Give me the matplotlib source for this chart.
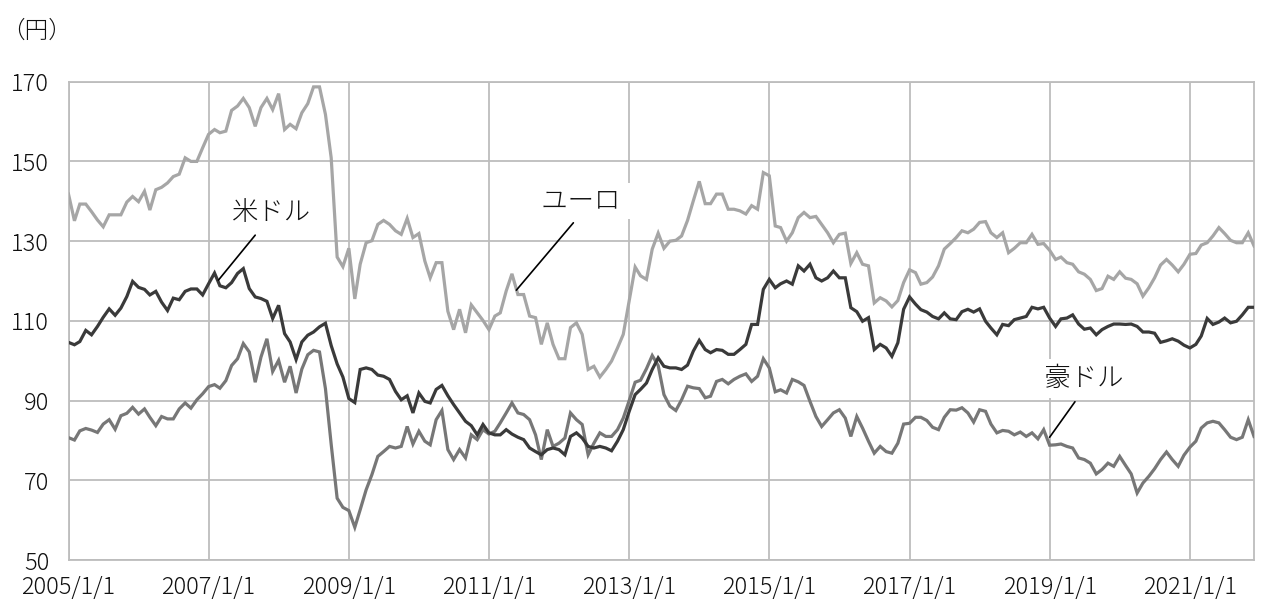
import matplotlib
matplotlib.use("Agg")
import matplotlib.pyplot as plt
import pandas as pd

plt.rcParams['font.family'] = ['Noto Sans CJK JP', 'DejaVu Sans']

# ---- data (monthly, 2005/1 - 2021/12) ----
start_date = "2005-01-01"
n_months = 204

usd = [104.6, 104.0, 104.8, 107.6, 106.5, 108.6, 110.9, 113.0, 111.4, 113.2, 116.1, 119.9,
       118.4, 117.9, 116.5, 117.4, 114.7, 112.6, 115.7, 115.3, 117.4, 118.0, 118.0, 116.5,
       119.3, 122.0, 118.8, 118.3, 119.6, 121.9, 123.1, 118.1, 116.0, 115.6, 114.9, 110.6,
       113.9, 106.8, 104.7, 100.3, 104.7, 106.4, 107.2, 108.5, 109.4, 103.8, 99.2, 95.9,
       90.5, 89.5, 97.8, 98.2, 97.8, 96.4, 96.1, 95.3, 92.3, 90.2, 91.2, 86.9,
       91.9, 89.8, 89.4, 92.8, 93.8, 91.2, 89.0, 86.9, 84.8, 83.7, 81.4, 84.0,
       81.9, 81.4, 81.4, 82.7, 81.6, 80.8, 80.2, 78.1, 77.2, 76.4, 77.7, 78.1,
       77.7, 76.4, 81.0, 81.9, 80.6, 78.5, 78.1, 78.5, 78.1, 77.4, 79.8, 82.7,
       87.3, 91.5, 92.8, 94.4, 97.8, 100.7, 98.6, 98.2, 98.2, 97.8, 98.9, 102.4,
       105.1, 102.8, 102.0, 102.8, 102.6, 101.6, 101.6, 102.8, 104.1, 109.1, 109.1, 117.9,
       120.4, 118.3, 119.3, 120.0, 119.2, 123.8, 122.5, 124.2, 120.8, 120.0, 120.8, 122.5,
       120.8, 120.8, 113.3, 112.3, 109.9, 110.8, 102.8, 104.1, 103.2, 101.1, 104.5, 112.9,
       116.0, 114.2, 112.8, 112.2, 111.1, 110.5, 112.0, 110.5, 110.3, 112.3, 112.9, 112.2,
       113.0, 109.9, 108.2, 106.5, 109.1, 108.8, 110.3, 110.7, 111.1, 113.4, 113.0, 113.4,
       110.7, 108.6, 110.5, 110.7, 111.5, 109.2, 107.9, 108.2, 106.5, 107.8, 108.6, 109.2,
       109.2, 109.1, 109.2, 108.6, 107.2, 107.2, 106.9, 104.6, 105.0, 105.5, 104.9, 103.9,
       103.2, 104.1, 106.2, 110.6, 109.1, 109.7, 110.7, 109.5, 109.9, 111.5, 113.4, 113.4]

eur = [141.8, 135.1, 139.3, 139.3, 137.4, 135.3, 133.6, 136.6, 136.6, 136.6, 139.8, 141.2,
       139.9, 142.5, 137.8, 142.9, 143.5, 144.6, 146.2, 146.8, 150.9, 150.0, 150.0, 153.4,
       156.8, 158.0, 157.2, 157.6, 162.8, 163.9, 165.8, 163.5, 158.8, 163.5, 165.8, 163.0,
       167.0, 158.0, 159.3, 158.2, 162.2, 164.5, 168.7, 168.7, 161.8, 150.9, 126.0, 123.6,
       128.2, 115.5, 124.2, 129.6, 130.1, 134.2, 135.2, 134.2, 132.6, 131.7, 135.7, 130.9,
       131.9, 125.0, 120.8, 124.6, 124.6, 112.4, 107.8, 112.9, 107.0, 114.0, 112.0, 110.1,
       107.8, 111.2, 112.0, 117.5, 121.8, 116.6, 116.6, 111.2, 110.8, 104.1, 109.5, 104.1,
       100.5, 100.5, 108.3, 109.5, 106.6, 97.8, 98.6, 95.9, 97.8, 99.9, 103.2, 106.6,
       115.0, 123.5, 121.3, 120.4, 128.0, 132.0, 128.2, 130.0, 130.2, 131.3, 135.2, 140.1,
       145.0, 139.4, 139.4, 141.8, 141.8, 138.0, 138.0, 137.6, 136.8, 138.9, 138.0, 147.2,
       146.4, 133.8, 133.4, 130.0, 132.1, 135.9, 137.2, 135.9, 136.2, 134.2, 132.1, 129.6,
       131.7, 132.0, 124.4, 127.1, 124.2, 123.8, 114.5, 115.8, 115.0, 113.5, 115.1, 119.6,
       122.8, 122.1, 119.2, 119.6, 121.0, 123.8, 128.0, 129.4, 130.9, 132.6, 132.1, 133.0,
       134.7, 134.9, 132.1, 130.9, 132.1, 127.1, 128.2, 129.6, 129.6, 131.7, 129.2, 129.4,
       127.7, 125.4, 126.0, 124.6, 124.2, 122.3, 121.7, 120.4, 117.6, 118.1, 121.2, 120.4,
       122.3, 120.7, 120.4, 119.3, 116.2, 118.3, 120.8, 124.0, 125.4, 124.0, 122.3, 124.2,
       126.7, 126.9, 129.0, 129.6, 131.3, 133.4, 131.9, 130.2, 129.6, 129.6, 132.1, 128.8]

aud = [80.7, 80.1, 82.4, 83.0, 82.6, 82.0, 84.1, 85.2, 82.8, 86.2, 86.8, 88.3,
       86.6, 87.9, 85.8, 83.7, 86.0, 85.4, 85.4, 87.9, 89.4, 88.1, 90.2, 91.7,
       93.5, 94.0, 93.1, 95.0, 98.8, 100.5, 104.3, 102.2, 94.6, 100.9, 105.5, 97.3,
       100.1, 94.6, 98.6, 91.9, 97.9, 101.5, 102.6, 102.2, 93.0, 79.0, 65.5, 63.2,
       62.4, 58.2, 62.6, 67.6, 71.4, 76.0, 77.2, 78.5, 78.1, 78.5, 83.5, 79.1,
       82.3, 79.8, 78.9, 85.2, 87.5, 77.7, 75.2, 77.7, 75.6, 81.4, 80.2, 82.7,
       81.6, 82.3, 84.4, 86.9, 89.4, 86.9, 86.5, 85.2, 81.4, 75.2, 82.7, 78.5,
       79.3, 80.6, 86.9, 85.2, 84.0, 76.4, 79.3, 81.9, 81.0, 81.0, 82.7, 85.6,
       90.0, 94.6, 95.1, 98.0, 101.3, 98.8, 91.5, 88.6, 87.5, 90.2, 93.6, 93.2,
       93.0, 90.7, 91.1, 94.8, 95.3, 94.2, 95.3, 96.1, 96.7, 94.8, 96.1, 100.5,
       98.2, 92.2, 92.7, 91.9, 95.3, 94.7, 93.8, 89.8, 86.0, 83.5, 85.2, 86.9,
       87.7, 85.6, 81.0, 86.0, 83.1, 79.8, 76.8, 78.5, 77.2, 76.8, 79.3, 84.1,
       84.3, 85.8, 85.8, 85.0, 83.3, 82.7, 85.8, 87.7, 87.6, 88.2, 86.9, 84.6,
       87.7, 87.3, 84.1, 81.9, 82.5, 82.3, 81.4, 82.1, 81.0, 81.9, 80.4, 82.7,
       78.8, 78.9, 79.1, 78.5, 78.1, 75.6, 75.2, 74.3, 71.6, 72.7, 74.3, 73.5,
       76.0, 73.7, 71.6, 66.8, 69.3, 71.0, 72.9, 75.2, 77.1, 75.2, 73.5, 76.3,
       78.3, 79.8, 83.1, 84.4, 84.8, 84.4, 82.7, 80.8, 80.2, 80.8, 85.2, 81.0]

series_names = ["米ドル", "ユーロ", "豪ドル"]
y_ticks = [50, 70, 90, 110, 130, 150, 170]
x_tick_years = [2005, 2007, 2009, 2011, 2013, 2015, 2017, 2019, 2021]
unit_label = "（円）"

dates = pd.date_range(start_date, periods=n_months, freq="MS")

# ---- figure ----
W, H = 1263, 607
fig = plt.figure(figsize=(W / 100, H / 100), dpi=100)
ax = fig.add_axes([68.5 / W, 1 - 560 / H, (1254 - 68.5) / W, (560 - 81.7) / H])

grid_c = "#bdbdbd"
c_usd, c_eur, c_aud = "#3a3a3a", "#a6a6a6", "#777777"
lw = 2.3
txt_c = "#111111"

ax.plot(dates, eur, color=c_eur, lw=lw, zorder=3, solid_joinstyle="miter")
ax.plot(dates, aud, color=c_aud, lw=lw, zorder=3, solid_joinstyle="miter")
ax.plot(dates, usd, color=c_usd, lw=lw, zorder=4, solid_joinstyle="miter")

ax.set_xlim(dates[0], dates[-1])
ax.set_ylim(50, 170)
ax.set_yticks(y_ticks)
xt = [pd.Timestamp(f"{y}-01-01") for y in x_tick_years]
ax.set_xticks(xt)
ax.set_xticklabels([f"{t.year}/{t.month}/{t.day}" for t in xt])

ax.grid(True, color=grid_c, lw=1.3, zorder=0)
for s in ax.spines.values():
    s.set_color(grid_c)
    s.set_linewidth(1.3)
ax.tick_params(length=0, labelsize=17, colors=txt_c)
ax.tick_params(axis="y", pad=14)
ax.tick_params(axis="x", pad=11)
for lab in ax.get_xticklabels() + ax.get_yticklabels():
    lab.set_fontweight("light")

fig.text(1 / W, 1 - 31 / H, unit_label, fontsize=17, ha="left", va="center", color=txt_c,
         fontweight="light")

def idx_date(i):
    return dates[0] + pd.DateOffset(months=int(i)) + pd.Timedelta(days=int((i - int(i)) * 30))

label_fs = 19
line_kw = dict(arrowstyle="-", color="black", lw=1.2, shrinkA=0, shrinkB=0)
# 米ドル
ax.text(idx_date(34.9), 137.2, series_names[0], fontsize=label_fs, ha="center", va="center",
        color=txt_c, zorder=6, fontweight="light")
ax.annotate("", xy=(idx_date(25.7), 120.2), xytext=(idx_date(32.0), 131.5),
            arrowprops=line_kw, zorder=6)
# ユーロ
ax.text(idx_date(87.7), 140.0, "\u2002" + series_names[1] + "\u2002", fontsize=label_fs, ha="center",
        va="center", color=txt_c, zorder=6, fontweight="light",
        bbox=dict(boxstyle="square,pad=0.15", fc="white", ec="none"))
ax.annotate("", xy=(idx_date(76.8), 117.7), xytext=(idx_date(86.5), 134.6),
            arrowprops=line_kw, zorder=6)
# 豪ドル
ax.text(idx_date(173.9), 95.6, "\u3000" + series_names[2] + "\u3000", fontsize=label_fs, ha="center",
        va="center", color=txt_c, zorder=6, fontweight="light",
        bbox=dict(boxstyle="square,pad=0.2", fc="white", ec="none"))
ax.annotate("", xy=(idx_date(168.0), 80.8), xytext=(idx_date(172.4), 89.7),
            arrowprops=line_kw, zorder=6)

fig.savefig("out.png", dpi=100)
